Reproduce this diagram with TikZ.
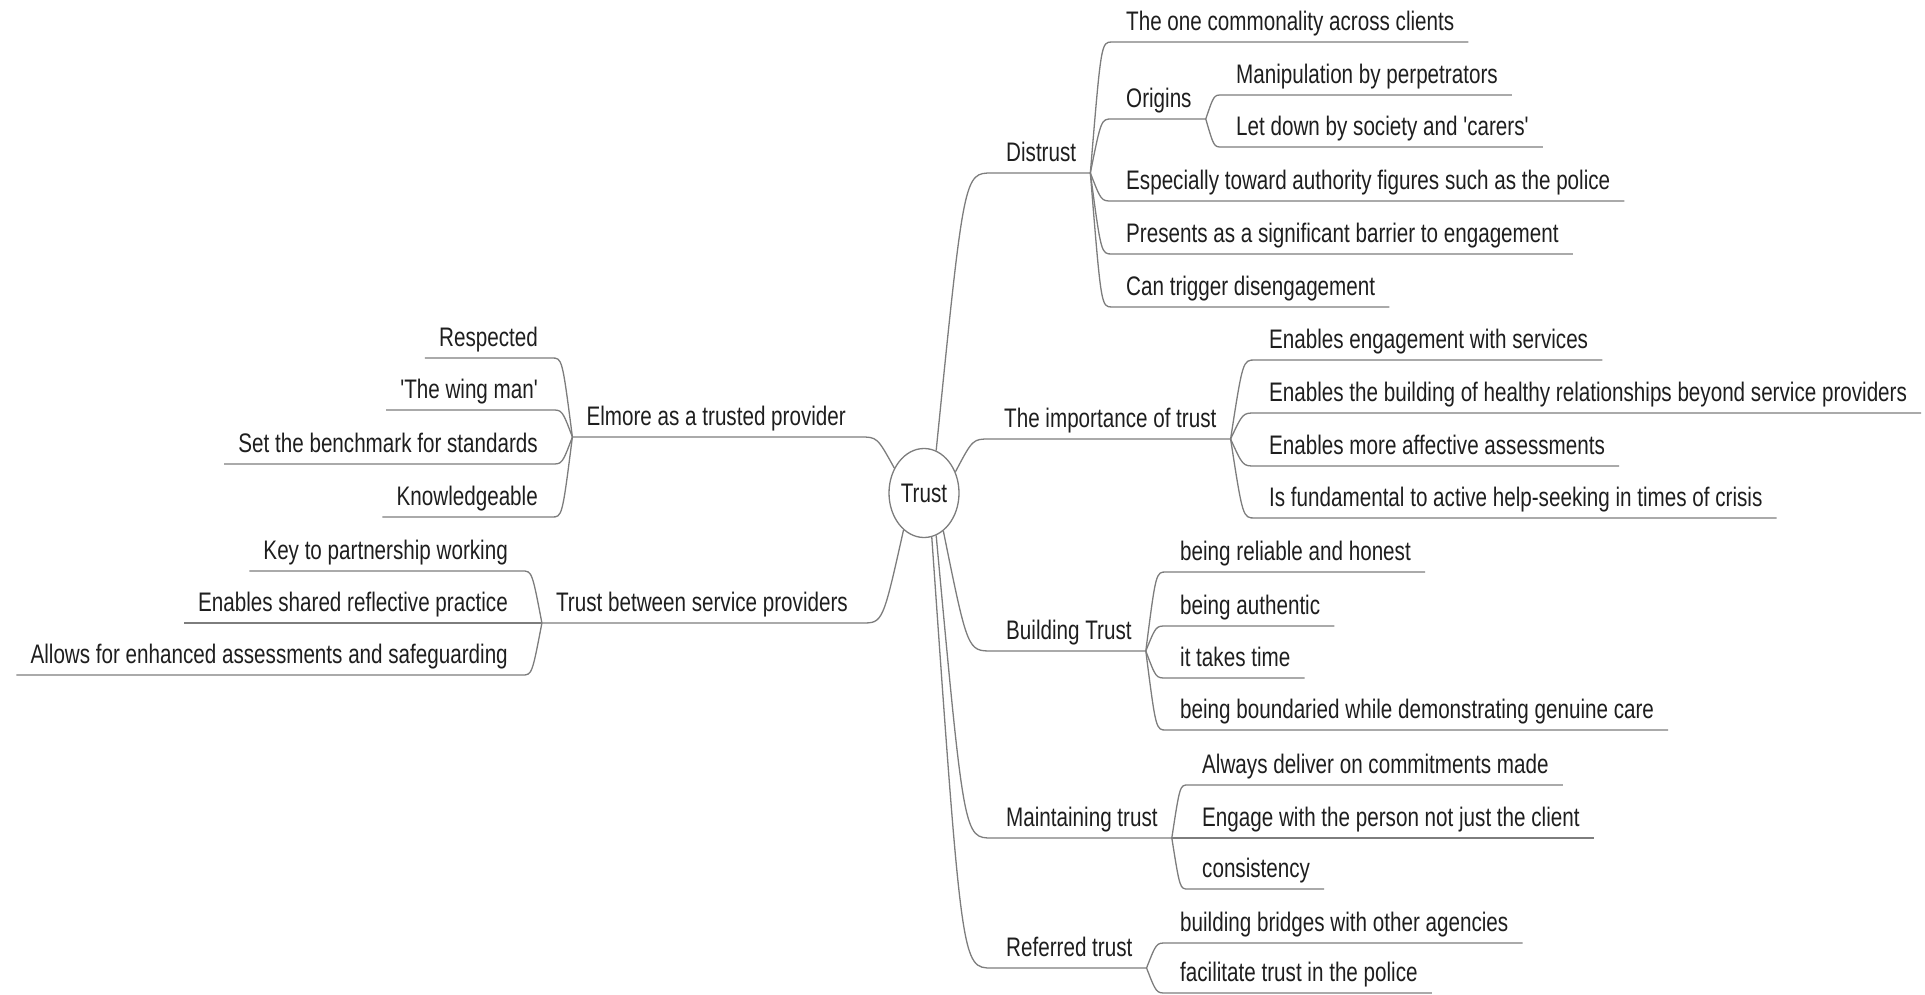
\documentclass[tikz,border=0pt]{standalone}
\usepackage{fontspec}
\newfontfamily\mapfont[FakeStretch=0.77]{Liberation Sans}
\usetikzlibrary{shapes.geometric,calc}
\definecolor{linegray}{RGB}{125,125,125}
\definecolor{inkgray}{RGB}{30,30,30}

\begin{document}
\begin{tikzpicture}[x=1pt, y=-1pt,
    every node/.style={font=\mapfont\fontsize{26.8}{30}\selectfont},
    topic/.style={inner xsep=14pt, inner ysep=11pt, text depth=0pt, text=inkgray},
    rt/.style={topic, anchor=south west},
    lt/.style={topic, anchor=south east},
    hub/.style={ellipse, draw=linegray, line width=1.3pt, minimum width=70pt, minimum height=89pt, inner sep=0pt, text=inkgray},
    link/.style={draw=linegray, line width=1.3pt,
        to path={let \p1=(\tikztostart), \p2=(\tikztotarget) in .. controls ({(\x1+\x2)/2},\y2) .. (\p2)}}]
    \useasboundingbox (0,0) rectangle (1925,995);

    \node[hub] (trust) at (924,493) {Trust};

    % right side
    \node[rt] (distrust) at (992,173) {Distrust};
    \node[rt] (common) at (1112,42) {The one commonality across clients};
    \node[rt] (origins) at (1112,119) {Origins};
    \node[rt] (manip) at (1222,95) {Manipulation by perpetrators};
    \node[rt] (letdown) at (1222,147) {Let down by society and 'carers'};
    \node[rt] (authority) at (1112,201) {Especially toward authority figures such as the police};
    \node[rt] (barrier) at (1112,254) {Presents as a significant barrier to engagement};
    \node[rt] (trigger) at (1112,307) {Can trigger disengagement};

    \node[rt] (importance) at (990,439) {The importance of trust};
    \node[rt] (services) at (1255,360) {Enables engagement with services};
    \node[rt] (beyond) at (1255,413) {Enables the building of healthy relationships beyond service providers};
    \node[rt] (affective) at (1255,466) {Enables more affective assessments};
    \node[rt] (crisis) at (1255,518) {Is fundamental to active help-seeking in times of crisis};

    \node[rt] (building) at (992,651) {Building Trust};
    \node[rt] (reliable) at (1166,572) {being reliable and honest};
    \node[rt] (authentic) at (1166,626) {being authentic};
    \node[rt] (time) at (1166,678) {it takes time};
    \node[rt] (boundaried) at (1166,730) {being boundaried while demonstrating genuine care};

    \node[rt] (maintaining) at (992,838) {Maintaining trust};
    \node[rt] (deliver) at (1188,785) {Always deliver on commitments made};
    \node[rt] (person) at (1188,838) {Engage with the person not just the client};
    \node[rt] (consistency) at (1188,889) {consistency};

    \node[rt] (referred) at (992,968) {Referred trust};
    \node[rt] (bridges) at (1166,943) {building bridges with other agencies};
    \node[rt] (police) at (1166,993) {facilitate trust in the police};

    % left side
    \node[lt] (elmore) at (860,437) {Elmore as a trusted provider};
    \node[lt] (respected) at (552,358) {Respected};
    \node[lt] (wingman) at (552,410) {'The wing man'};
    \node[lt] (benchmark) at (552,464) {Set the benchmark for standards};
    \node[lt] (knowledge) at (552,517) {Knowledgeable};

    \node[lt] (between) at (862,623) {Trust between service providers};
    \node[lt] (partnership) at (522,571) {Key to partnership working};
    \node[lt] (reflective) at (522,623) {Enables shared reflective practice};
    \node[lt] (safeguard) at (522,675) {Allows for enhanced assessments and safeguarding};

    % main branches
    \draw[link] (trust.74) to (distrust.south west) -- (distrust.south east);
    \draw[link] (trust.34) to (importance.south west) -- (importance.south east);
    \draw[link] (trust.297) to (building.south west) -- (building.south east);
    \draw[link] (trust.286) to (maintaining.south west) -- (maintaining.south east);
    \draw[link] (trust.280) to (referred.south west) -- (referred.south east);
    \draw[link] (trust.140) to (elmore.south east) -- (elmore.south west);
    \draw[link] (trust.241) to (between.south east) -- (between.south west);

    \draw[link] (distrust.south east) to (common.south west) -- (common.south east);
    \draw[link] (distrust.south east) to (origins.south west) -- (origins.south east);
    \draw[link] (distrust.south east) to (authority.south west) -- (authority.south east);
    \draw[link] (distrust.south east) to (barrier.south west) -- (barrier.south east);
    \draw[link] (distrust.south east) to (trigger.south west) -- (trigger.south east);
    \draw[link] (origins.south east) to (manip.south west) -- (manip.south east);
    \draw[link] (origins.south east) to (letdown.south west) -- (letdown.south east);

    \draw[link] (importance.south east) to (services.south west) -- (services.south east);
    \draw[link] (importance.south east) to (beyond.south west) -- (beyond.south east);
    \draw[link] (importance.south east) to (affective.south west) -- (affective.south east);
    \draw[link] (importance.south east) to (crisis.south west) -- (crisis.south east);

    \draw[link] (building.south east) to (reliable.south west) -- (reliable.south east);
    \draw[link] (building.south east) to (authentic.south west) -- (authentic.south east);
    \draw[link] (building.south east) to (time.south west) -- (time.south east);
    \draw[link] (building.south east) to (boundaried.south west) -- (boundaried.south east);

    \draw[link] (maintaining.south east) to (deliver.south west) -- (deliver.south east);
    \draw[link] (maintaining.south east) to (person.south west) -- (person.south east);
    \draw[link] (maintaining.south east) to (consistency.south west) -- (consistency.south east);

    \draw[link] (referred.south east) to (bridges.south west) -- (bridges.south east);
    \draw[link] (referred.south east) to (police.south west) -- (police.south east);

    \draw[link] (elmore.south west) to (respected.south east) -- (respected.south west);
    \draw[link] (elmore.south west) to (wingman.south east) -- (wingman.south west);
    \draw[link] (elmore.south west) to (benchmark.south east) -- (benchmark.south west);
    \draw[link] (elmore.south west) to (knowledge.south east) -- (knowledge.south west);

    \draw[link] (between.south west) to (partnership.south east) -- (partnership.south west);
    \draw[link] (between.south west) to (reflective.south east) -- (reflective.south west);
    \draw[link] (between.south west) to (safeguard.south east) -- (safeguard.south west);
\end{tikzpicture}
\end{document}
